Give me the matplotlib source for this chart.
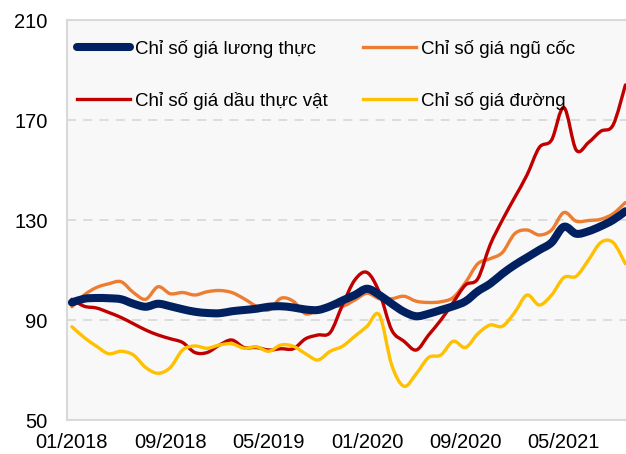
import numpy as np
import matplotlib
matplotlib.use("Agg")
import matplotlib.pyplot as plt
from matplotlib.path import Path
from matplotlib.patches import PathPatch
from matplotlib.lines import Line2D

plt.rcParams['font.family'] = ['Liberation Sans', 'DejaVu Sans']

# ---- data (monthly, 01/2018 .. 10/2021) ----
tick_labels = ["01/2018", "09/2018", "05/2019", "01/2020", "09/2020", "05/2021"]
tick_idx = [0, 8, 16, 24, 32, 40]

food = [97.0, 98.5, 98.8, 98.7, 98.3, 96.5, 95.3, 96.5, 95.5, 94.3, 93.3, 92.8,
        92.7, 93.5, 94.0, 94.5, 95.3, 95.5, 95.0, 94.2, 94.0, 95.5, 97.8, 100.0,
        102.5, 100.0, 96.5, 93.3, 91.5, 92.5, 94.0, 95.5, 97.5, 101.5, 104.5, 108.5,
        112.0, 115.0, 118.0, 121.0, 127.3, 124.5, 125.5, 127.5, 130.0, 133.5]
cereal = [95.3, 100.0, 103.0, 104.5, 105.3, 101.0, 98.3, 103.3, 100.5, 101.0, 100.0, 101.3,
          101.8, 101.0, 98.5, 95.5, 94.0, 98.7, 97.5, 92.5, 94.0, 96.0, 95.5, 98.0,
          100.7, 98.5, 98.5, 99.5, 97.5, 97.0, 97.3, 99.0, 105.0, 112.5, 114.5, 117.0,
          124.5, 126.0, 124.0, 126.0, 133.0, 129.5, 129.8, 130.3, 132.5, 137.0]
vegoil = [98.3, 95.5, 94.8, 93.0, 91.0, 88.5, 86.0, 84.0, 82.5, 81.0, 77.0, 77.0,
          80.0, 82.0, 79.0, 79.0, 78.0, 78.5, 78.5, 82.5, 84.0, 85.0, 96.0, 106.0,
          109.0, 101.0, 86.0, 81.5, 78.0, 84.0, 90.0, 97.0, 104.0, 106.5, 120.0, 130.0,
          139.0, 148.0, 159.0, 162.0, 175.0, 158.0, 161.0, 165.5, 168.0, 184.0]
sugar = [87.3, 83.0, 79.5, 76.5, 77.5, 76.0, 71.0, 68.7, 71.0, 78.0, 79.6, 78.7,
         80.0, 80.5, 78.7, 79.3, 77.5, 80.0, 79.5, 76.5, 74.0, 77.5, 79.5, 83.5,
         87.5, 92.0, 72.0, 63.5, 68.5, 75.0, 76.0, 81.5, 79.0, 84.5, 88.0, 87.5,
         93.0, 100.0, 96.0, 100.0, 107.0, 107.5, 114.0, 121.0, 121.0, 112.5]

labels = ["Chỉ số giá lương thực", "Chỉ số giá dầu thực vật",
          "Chỉ số giá ngũ cốc", "Chỉ số giá đường"]
colors = {"food": "#002060", "cereal": "#ED7D31", "vegoil": "#C00000", "sugar": "#FFC000"}


def smooth_path(y):
    y = np.asarray(y, float)
    x = np.arange(len(y), dtype=float)
    n = len(y)
    verts = [(x[0], y[0])]
    codes = [Path.MOVETO]
    for i in range(n - 1):
        x0, y0 = x[max(i - 1, 0)], y[max(i - 1, 0)]
        x1, y1 = x[i], y[i]
        x2, y2 = x[i + 1], y[i + 1]
        x3, y3 = x[min(i + 2, n - 1)], y[min(i + 2, n - 1)]
        c1 = (x1 + (x2 - x0) / 6.0, y1 + (y2 - y0) / 6.0)
        c2 = (x2 - (x3 - x1) / 6.0, y2 - (y3 - y1) / 6.0)
        verts += [c1, c2, (x2, y2)]
        codes += [Path.CURVE4] * 3
    return Path(verts, codes)


W, H = 626, 454
fig = plt.figure(figsize=(W / 100, H / 100), dpi=100)
ax = fig.add_axes([67 / W, 1 - 420 / H, (626 - 67) / W, 400 / H])
ax.set_facecolor("#F8F8F8")

ax.set_xlim(-0.4, 45.05)
ax.set_ylim(50, 210)
ax.set_yticks([50, 90, 130, 170, 210])
ax.set_xticks(tick_idx)
ax.set_xticklabels(tick_labels)
ax.tick_params(axis='both', length=0, labelsize=14.5, colors="#000000")
ax.tick_params(axis='y', pad=14)
ax.tick_params(axis='x', pad=9)

for v in [90, 130, 170]:
    ax.axhline(v, color="#D9D9D9", lw=1.3, ls=(0, (5, 4)), zorder=1)

for s in ["left", "bottom", "top"]:
    ax.spines[s].set_color("#D9D9D9")
    ax.spines[s].set_linewidth(1.5)
ax.spines["right"].set_visible(False)

series = [("cereal", cereal, 2.4), ("vegoil", vegoil, 2.4), ("sugar", sugar, 2.4), ("food", food, 5.8)]
for key, vals, lw in series:
    p = PathPatch(smooth_path(vals), facecolor="none", edgecolor=colors[key], lw=lw,
                  capstyle="round", joinstyle="round", zorder=3)
    ax.add_patch(p)

handles = [Line2D([], [], color=colors["food"], lw=5.8, solid_capstyle="round"),
           Line2D([], [], color=colors["vegoil"], lw=2.4),
           Line2D([], [], color=colors["cereal"], lw=2.4),
           Line2D([], [], color=colors["sugar"], lw=2.4)]
leg = ax.legend(handles, labels, ncol=2, loc="upper left", frameon=False,
                bbox_to_anchor=(10 / 559, 1 - 20 / 400), borderaxespad=0, borderpad=0,
                fontsize=13.5, handlelength=2.83, handletextpad=0.27, columnspacing=1.85,
                labelspacing=1.8)

fig.savefig("out.png", dpi=100)
